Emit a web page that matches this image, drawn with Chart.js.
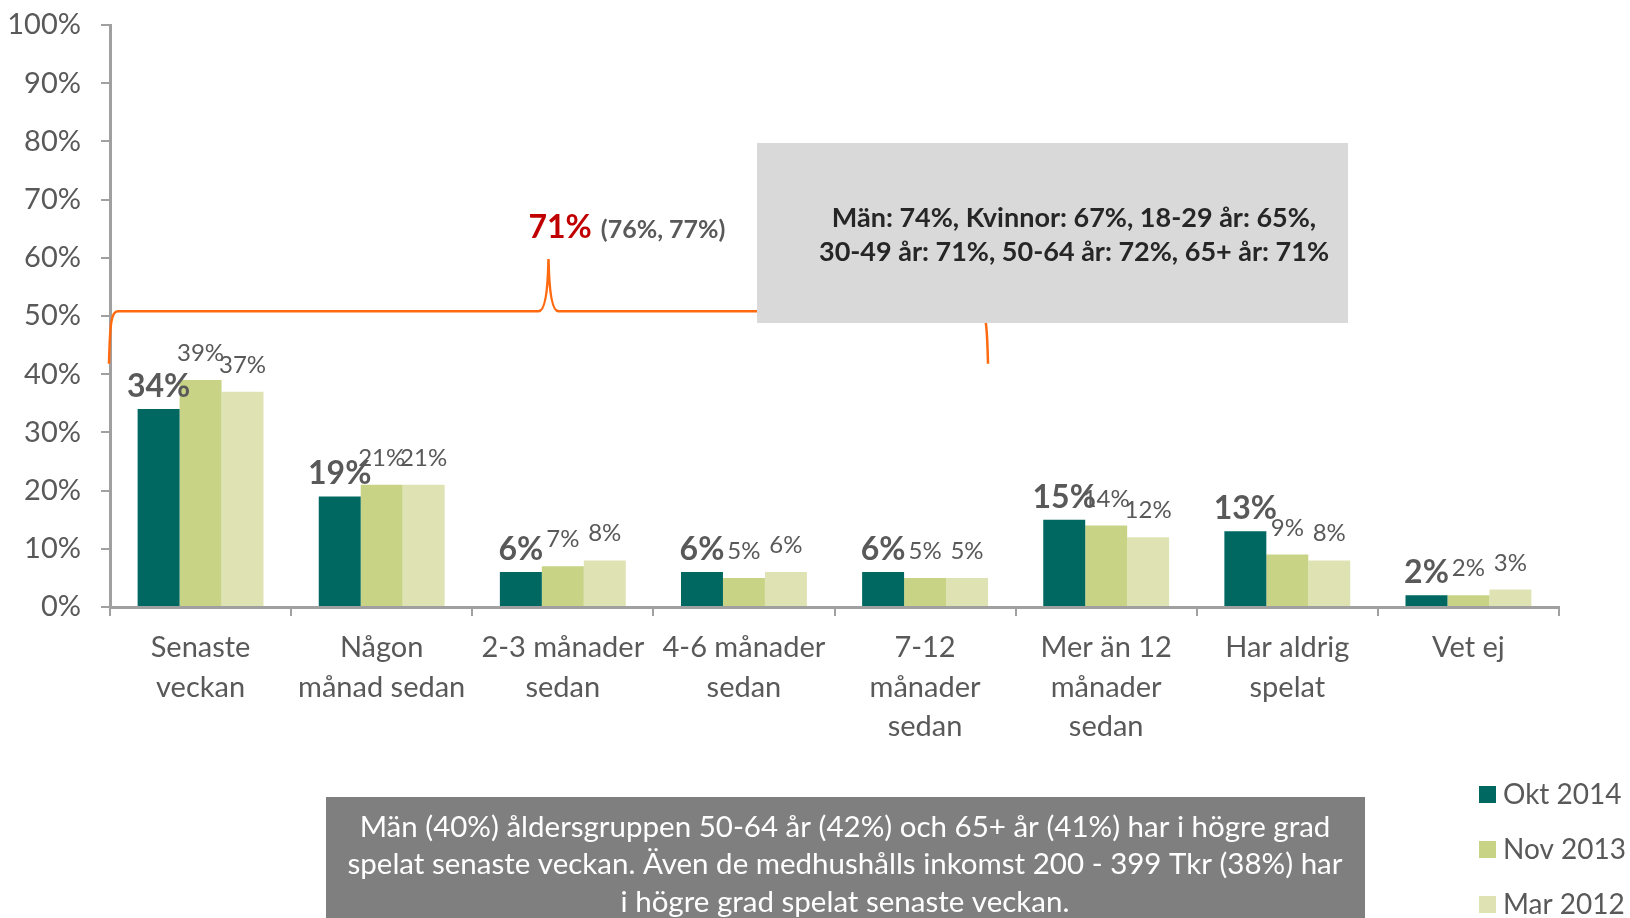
<!DOCTYPE html>
<html>
<head>
<meta charset="utf-8">
<script src="https://cdn.jsdelivr.net/npm/chart.js@4.4.1/dist/chart.umd.min.js"></script>
<style>
  html, body { margin: 0; padding: 0; background: #fff; }
  #wrap { width: 1630px; height: 918px; }
</style>
</head>
<body>
<div id="wrap"><canvas id="chart" width="1630" height="918"></canvas></div>
<script>
// Kategorier (x-axel)
const kategorier = [
  ['Senaste', 'veckan'],
  ['Någon', 'månad sedan'],
  ['2-3 månader', 'sedan'],
  ['4-6 månader', 'sedan'],
  ['7-12', 'månader', 'sedan'],
  ['Mer än 12', 'månader', 'sedan'],
  ['Har aldrig', 'spelat'],
  ['Vet ej']
];

// Serier
const serieNamn = ['Okt 2014', 'Nov 2013', 'Mar 2012'];
const okt2014 = [34, 19, 6, 6, 6, 15, 13, 2];
const nov2013 = [39, 21, 7, 5, 5, 14, 9, 2];
const mar2012 = [37, 21, 8, 6, 5, 12, 8, 3];
const serieFarger = ['#006861', '#c8d385', '#dfe3b4'];

// Y-axelns steg
const yTicks = [0, 10, 20, 30, 40, 50, 60, 70, 80, 90, 100];

// Klammer över de fem första kategorierna
const klammerAntal = 5;
const klammerTotal = '71%';
const klammerTidigare = '(76%, 77%)';

// Textrutor
const rutaTopp = [
  'Män: 74%, Kvinnor: 67%, 18-29 år: 65%,',
  '30-49 år: 71%, 50-64 år: 72%, 65+ år: 71%'
];
const rutaBotten = [
  'Män (40%) åldersgruppen 50-64 år (42%) och 65+ år (41%) har i högre grad',
  'spelat senaste veckan. Även de medhushålls inkomst 200 - 399 Tkr (38%) har',
  'i högre grad spelat senaste veckan.'
];

const FONT = 'Lato, "Open Sans", sans-serif';
const GRA_TEXT = '#595959';
const AXEL = '#a0a0a0';

const extraRitning = {
  id: 'extraRitning',
  afterDatasetsDraw(chart) {
    const ctx = chart.ctx;
    const yS = chart.scales.y;
    const area = chart.chartArea;

    // etiketter ovanför staplarna
    chart.data.datasets.forEach((ds, di) => {
      const meta = chart.getDatasetMeta(di);
      meta.data.forEach((bar, i) => {
        ctx.save();
        const fet = di === 0;
        ctx.font = fet ? 'bold 32px ' + FONT : '24px ' + FONT;
        ctx.fillStyle = GRA_TEXT;
        ctx.textAlign = 'center';
        ctx.textBaseline = 'alphabetic';
        ctx.fillText(ds.data[i] + '%', bar.x, bar.y - (fet ? 12 : 19));
        ctx.restore();
      });
    });

    // klammer
    const sista = chart.getDatasetMeta(2).data[klammerAntal - 1];
    const x0 = area.left - 1;
    const x1 = sista.x + sista.width / 2;
    const mid = (x0 + x1) / 2;
    const yB = yS.getPixelForValue(41.8);
    const yH = yS.getPixelForValue(50.8);
    const yP = yS.getPixelForValue(59.8);
    ctx.save();
    ctx.strokeStyle = '#ff6a10';
    ctx.lineWidth = 2.5;
    ctx.beginPath();
    ctx.moveTo(x0, yB);
    ctx.bezierCurveTo(x0 + 1, yH + 12, x0 + 2, yH, x0 + 9, yH);
    ctx.lineTo(mid - 10, yH);
    ctx.quadraticCurveTo(mid - 1, yH, mid, yP);
    ctx.quadraticCurveTo(mid + 1, yH, mid + 10, yH);
    ctx.lineTo(x1 - 9, yH);
    ctx.bezierCurveTo(x1 - 2, yH, x1 - 1, yH + 12, x1, yB);
    ctx.stroke();

    // 71% (76%, 77%)
    ctx.textAlign = 'left';
    ctx.textBaseline = 'alphabetic';
    ctx.font = 'bold 32px ' + FONT;
    ctx.fillStyle = '#c00000';
    const tx = mid - 20;
    ctx.fillText(klammerTotal, tx, yP - 21);
    const w = ctx.measureText(klammerTotal).width;
    ctx.font = 'bold 25px ' + FONT;
    ctx.fillStyle = GRA_TEXT;
    ctx.fillText(klammerTidigare, tx + w + 9, yP - 21);

    // grå ruta uppe
    ctx.fillStyle = '#d9d9d9';
    ctx.fillRect(757, 143, 591, 180);
    ctx.fillStyle = '#262626';
    ctx.font = 'bold 27px ' + FONT;
    ctx.textAlign = 'center';
    ctx.textBaseline = 'middle';
    rutaTopp.forEach((rad, i) => ctx.fillText(rad, 1074, 218 + i * 34));
    ctx.restore();
  },
  afterDraw(chart) {
    const ctx = chart.ctx;
    ctx.save();
    // grå ruta nere
    ctx.fillStyle = '#7f7f7f';
    ctx.fillRect(326, 797, 1039, 130);
    ctx.fillStyle = '#ffffff';
    ctx.font = '29.5px ' + FONT;
    ctx.textAlign = 'center';
    ctx.textBaseline = 'middle';
    rutaBotten.forEach((rad, i) => ctx.fillText(rad, 845, 827 + i * 37.5));

    // förklaring
    ctx.textAlign = 'left';
    ctx.font = '28px ' + FONT;
    serieNamn.forEach((namn, i) => {
      const cy = 794 + i * 55;
      ctx.fillStyle = serieFarger[i];
      ctx.fillRect(1479, cy - 8, 17, 17);
      ctx.fillStyle = GRA_TEXT;
      ctx.fillText(namn, 1503, cy + 1);
    });
    ctx.restore();
  }
};

new Chart(document.getElementById('chart'), {
  type: 'bar',
  data: {
    labels: kategorier,
    datasets: [
      { label: serieNamn[0], data: okt2014, backgroundColor: serieFarger[0] },
      { label: serieNamn[1], data: nov2013, backgroundColor: serieFarger[1] },
      { label: serieNamn[2], data: mar2012, backgroundColor: serieFarger[2] }
    ]
  },
  options: {
    responsive: false,
    animation: false,
    devicePixelRatio: 1,
    layout: { padding: { top: 25, right: 71, left: 0, bottom: 0 } },
    datasets: { bar: { barPercentage: 1.0, categoryPercentage: 0.695 } },
    plugins: { legend: { display: false }, tooltip: { enabled: false } },
    scales: {
      x: {
        border: { display: true, color: AXEL, width: 3 },
        grid: { drawOnChartArea: false, drawTicks: true, tickLength: 9, color: AXEL, lineWidth: 2 },
        ticks: {
          color: GRA_TEXT, padding: 12, maxRotation: 0, autoSkip: false,
          font: { family: FONT, size: 29, lineHeight: 1.36 }
        },
        afterFit(s) { s.height = 311; }
      },
      y: {
        min: 0, max: 100,
        afterBuildTicks(s) { s.ticks = yTicks.map(v => ({ value: v })); },
        border: { display: true, color: AXEL, width: 3 },
        grid: { drawOnChartArea: false, drawTicks: true, tickLength: 9, color: AXEL, lineWidth: 2 },
        ticks: {
          color: GRA_TEXT, padding: 20,
          font: { family: FONT, size: 29 },
          callback: v => v + '%'
        },
        afterFit(s) { s.width = 110; s.paddingTop = 0; }
      }
    }
  },
  plugins: [extraRitning]
});
</script>
</body>
</html>
